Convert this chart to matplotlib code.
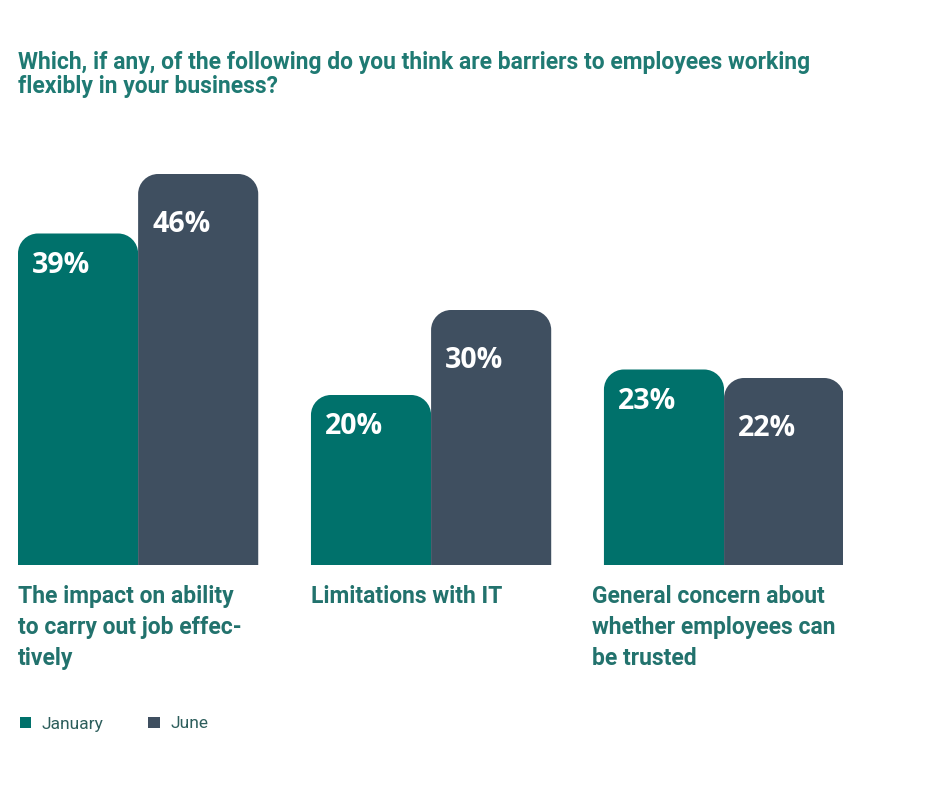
import numpy as np
import matplotlib
matplotlib.use("Agg")
import matplotlib.pyplot as plt
from matplotlib.path import Path
from matplotlib.patches import PathPatch, Patch
from matplotlib import font_manager as fm

_names = {f.name for f in fm.fontManager.ttflist}
NARROW = "Liberation Sans Narrow" if "Liberation Sans Narrow" in _names else "Roboto"

TITLE = "Which, if any, of the following do you think are barriers to employees working\nflexibly in your business?"
categories = ["The impact on ability\nto carry out job effec-\ntively",
              "Limitations with IT",
              "General concern about\nwhether employees can\nbe trusted"]
series = ["January", "June"]
january = [39, 20, 23]
june = [46, 30, 22]

C_JAN, C_JUN = "#00716b", "#3f4f60"
C_TEXT = "#22726d"
W, H = 940, 788

fig = plt.figure(figsize=(W / 100, H / 100), dpi=100)
fig.patch.set_facecolor("white")
# axes placed in pixel terms: left 18, right 843, baseline at y=565
ax = fig.add_axes([18 / W, 1 - 565 / H, (843 - 18) / W, 425 / H])
ax.set_xlim(-0.41, 2.406)
ax.set_ylim(0, 50)
ax.axis("off")

bw = 0.41
rad_px = 20
px_x = (843 - 18) / (2.406 + 0.41)
px_y = 425 / 50
rx, ry = rad_px / px_x, rad_px / px_y
k = 0.5523


def round_bar(x0, x1, top, color):
    verts = [(x0, 0), (x0, top - ry),
             (x0, top - ry + k * ry), (x0 + rx - k * rx, top), (x0 + rx, top),
             (x1 - rx, top),
             (x1 - rx + k * rx, top), (x1, top - ry + k * ry), (x1, top - ry),
             (x1, 0), (x0, 0)]
    codes = [Path.MOVETO, Path.LINETO,
             Path.CURVE4, Path.CURVE4, Path.CURVE4,
             Path.LINETO,
             Path.CURVE4, Path.CURVE4, Path.CURVE4,
             Path.LINETO, Path.CLOSEPOLY]
    ax.add_patch(PathPatch(Path(verts, codes), facecolor=color, edgecolor="none"))


x = np.arange(len(categories))
label_dx = [0, 0, -0.04]
for i in x:
    for vals, col, left, dy in ((january, C_JAN, i - bw, -32), (june, C_JUN, i, -50)):
        v = vals[i]
        round_bar(left, left + bw, v, col)
        ax.annotate(f"{v}%", (left, v), xytext=(14, dy), textcoords="offset pixels",
                    ha="left", va="center", color="white", fontsize=20.5,
                    fontweight="bold", family="Open Sans")
    ax.text(i - bw + label_dx[i], -2.3, categories[i], ha="left", va="top",
            fontsize=16.5, fontweight="bold", color=C_TEXT, family=NARROW,
            linespacing=1.45)

fig.text(18 / W, 1 - 51 / H, TITLE, ha="left", va="top", fontsize=16.5,
         fontweight="bold", color="#1f7a73", family=NARROW, linespacing=1.05)

handles = [Patch(facecolor=C_JAN), Patch(facecolor=C_JUN)]
leg = fig.legend(handles, series, loc="center left", bbox_to_anchor=(4 / W, 1 - 724 / H),
                 ncol=2, frameon=False, handlelength=0.65, handleheight=0.65,
                 handletextpad=0.6, columnspacing=2.6,
                 prop={"family": NARROW, "size": 12.5})
for t in leg.get_texts():
    t.set_color("#2d5e5c")

fig.savefig("out.png", dpi=100, facecolor="white")
